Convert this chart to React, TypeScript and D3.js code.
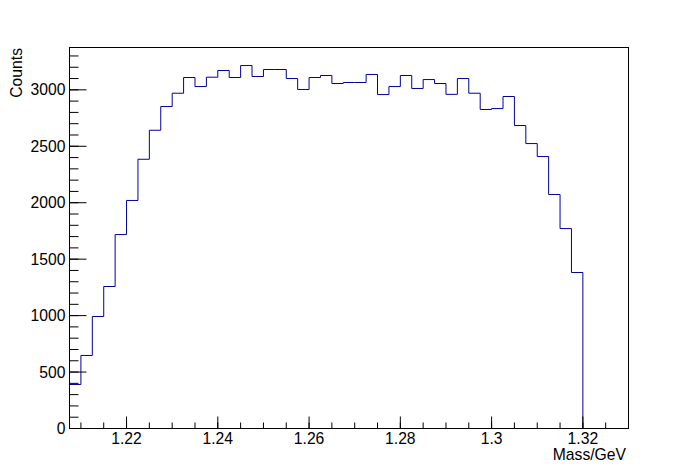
import React from "react";
import * as d3 from "d3";

// Histogram: bins of width 0.0025 GeV starting at 1.2075
const binStart = 1.2075;
const binWidth = 0.0025;
const counts: number[] = [
  390, 647, 992, 1258, 1718, 2020, 2385, 2642, 2852, 2970,
  3109, 3029, 3112, 3171, 3109, 3215, 3118, 3180, 3180, 3100,
  3003, 3109, 3127, 3056, 3065, 3065, 3136, 2958, 3029, 3127,
  3012, 3091, 3056, 2960, 3100, 2970, 2826, 2834, 2941, 2684,
  2524, 2409, 2073, 1771, 1382, 0, 0, 0, 0,
];
const xDomain: [number, number] = [1.2075, 1.33];
const yDomain: [number, number] = [0, 3375];
const xMajorTicks = [1.22, 1.24, 1.26, 1.28, 1.3, 1.32];
const xTickLabels = ["1.22", "1.24", "1.26", "1.28", "1.3", "1.32"];
const yMajorTicks = [0, 500, 1000, 1500, 2000, 2500, 3000];
const xTitle = "Mass/GeV";
const yTitle = "Counts";

const W = 698;
const H = 476;
const left = 69.5, right = 628.5, top = 47.5, bottom = 428.5;
const font = "'Liberation Sans', Arial, Helvetica, sans-serif";
const fs = 15.7;
const lineColor = "#000099";

export default function App() {
  const x = d3.scaleLinear().domain(xDomain).range([left, right]);
  const y = d3.scaleLinear().domain(yDomain).range([bottom, top]);

  const pts: [number, number][] = [];
  counts.forEach((c, i) => {
    const x0 = binStart + i * binWidth;
    const x1 = x0 + binWidth;
    pts.push([x(x0), y(c)]);
    pts.push([x(x1), y(c)]);
  });
  const path = d3.line()(pts) || "";

  const xMinor: number[] = [];
  for (let v = 1.21; v <= 1.33 + 1e-9; v += 0.005) {
    const r = Math.round(v * 1000) / 1000;
    if (r >= xDomain[0] && r <= xDomain[1]) xMinor.push(r);
  }
  const yMinor: number[] = [];
  for (let v = 0; v <= yDomain[1]; v += 100) yMinor.push(v);

  return (
    <svg
      width={W}
      height={H}
      style={{ position: "fixed", left: 0, top: 0, background: "#fff" }}
      fontFamily={font}
    >
      <rect x={0} y={0} width={W} height={H} fill="#fff" />
      <path d={path} fill="none" stroke={lineColor} strokeWidth={1} />
      <rect
        x={left}
        y={top}
        width={right - left}
        height={bottom - top}
        fill="none"
        stroke="#000"
        strokeWidth={1}
      />
      {xMinor.map((v, i) => (
        <line key={"xm" + i} x1={x(v)} x2={x(v)} y1={bottom} y2={bottom - 6} stroke="#000" />
      ))}
      {xMajorTicks.map((v, i) => (
        <g key={"xM" + i}>
          <line x1={x(v)} x2={x(v)} y1={bottom} y2={bottom - 12} stroke="#000" />
          <text x={x(v)} y={443.5} textAnchor="middle" fontSize={fs} fill="#000">
            {xTickLabels[i]}
          </text>
        </g>
      ))}
      {yMinor.map((v, i) => (
        <line key={"ym" + i} x1={left} x2={left + 9} y1={y(v)} y2={y(v)} stroke="#000" />
      ))}
      {yMajorTicks.map((v, i) => (
        <g key={"yM" + i}>
          <line x1={left} x2={left + 17} y1={y(v)} y2={y(v)} stroke="#000" />
          <text x={65.5} y={y(v) + 5.6} textAnchor="end" fontSize={fs} fill="#000">
            {String(v)}
          </text>
        </g>
      ))}
      <text x={626} y={460} textAnchor="end" fontSize={fs} fill="#000">
        {xTitle}
      </text>
      <text transform={`translate(22,48) rotate(-90)`} textAnchor="end" fontSize={fs} fill="#000">
        {yTitle}
      </text>
    </svg>
  );
}
